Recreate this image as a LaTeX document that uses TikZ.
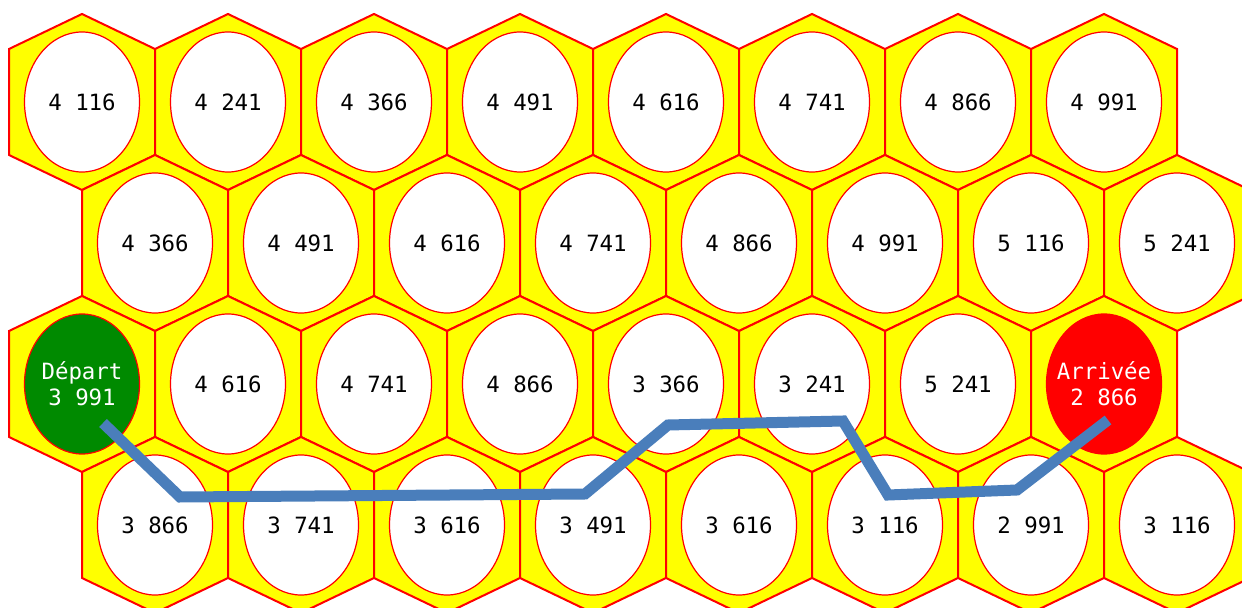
\documentclass[tikz,border=0pt]{standalone}
\usepackage{fontspec}
\setmonofont{DejaVu Sans Mono}
\usepackage{xcolor}
\usepackage{tikz}
\usetikzlibrary{
	shapes.geometric
}

\definecolor{cellyellow}{RGB}{255,255,0}
\definecolor{cellred}{RGB}{255,0,0}
\definecolor{departgreen}{RGB}{0,138,0}
\definecolor{trailblue}{RGB}{74,126,187}

\tikzset{
	hexcell/.style={fill=cellyellow, draw=cellred, line width=1pt, line join=miter},
	cellval/.style={ellipse, draw=cellred, line width=0.6pt, fill=white,
		minimum width=57.5pt, minimum height=70pt, inner sep=0pt, align=center,
		font=\ttfamily\fontsize{11.2}{13}\selectfont},
	endcell/.style={cellval, text=white, inner sep=-6pt},
	trail/.style={draw=trailblue, line width=5.5pt, line join=miter}
}

\begin{document}
\begin{tikzpicture}[x=0.5pt, y=-0.5pt]
	\useasboundingbox (0,0) rectangle (1242,608);
	\clip (0,0) rectangle (1242,608);
	
	% 画蜂窝格
	\foreach \r/\dx in {1/82,2/155,3/82,4/155}
	\foreach \k in {1,...,8}
	\draw[hexcell, shift={({\dx+146*(\k-1)},{102+141*(\r-1)})}]
		(0,-88) -- (73,-53) -- (73,53) -- (0,88) -- (-73,53) -- (-73,-53) -- cycle;
	
	% 第一行
	\foreach \v [count=\k] in {4 116,4 241,4 366,4 491,4 616,4 741,4 866,4 991}
	\node[cellval] (a\k) at ({82+146*(\k-1)},102) {\v};
	
	% 第二行
	\foreach \v [count=\k] in {4 366,4 491,4 616,4 741,4 866,4 991,5 116,5 241}
	\node[cellval] (b\k) at ({155+146*(\k-1)},243) {\v};
	
	% 第三行：起点和终点
	\node[endcell, fill=departgreen] (depart) at (82,384) {Départ\\3 991};
	\foreach \v [count=\k from 2] in {4 616,4 741,4 866,3 366,3 241,5 241}
	\node[cellval] (c\k) at ({82+146*(\k-1)},384) {\v};
	\node[endcell, fill=cellred] (arrivee) at (1104,384) {Arrivée\\2 866};
	
	% 第四行
	\foreach \v [count=\k] in {3 866,3 741,3 616,3 491,3 616,3 116,2 991,3 116}
	\node[cellval] (d\k) at ({155+146*(\k-1)},525) {\v};
	
	% 路径的拐点
	\coordinate (t0) at (103,423);
	\coordinate (t1) at (180,497);
	\coordinate (t2) at (585,494);
	\coordinate (t3) at (668,425);
	\coordinate (t4) at (843,421);
	\coordinate (t5) at (888,495);
	\coordinate (t6) at (1017,490);
	\coordinate (t7) at (1108,420);
	
	% 画路径
	\draw[trail] (t0) -- (t1) -- (t2) -- (t3) -- (t4) -- (t5) -- (t6) -- (t7);
\end{tikzpicture}
\end{document}
